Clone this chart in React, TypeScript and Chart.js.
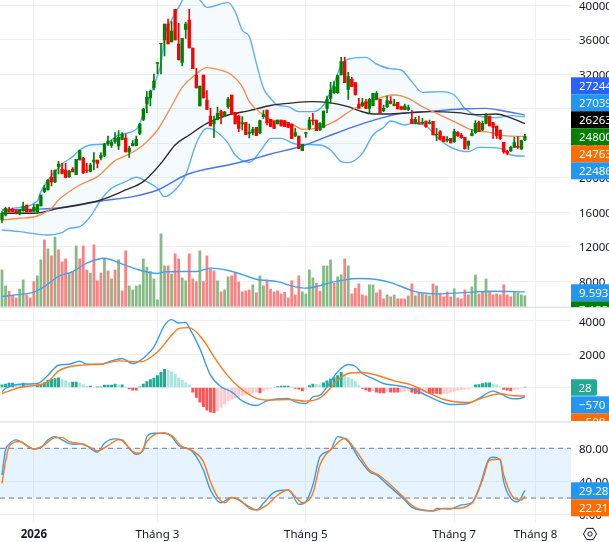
import React, { useEffect, useRef } from "react";
import { Chart, registerables } from "chart.js";

Chart.register(...registerables);

const FONT = "'Noto Sans', sans-serif";

const openPrice = [15084,15664,16320,16320,16166,15780,16166,16823,16282,16089,16011,16707,18368,18561,20029,19488,21265,20956,20879,20106,20995,20338,22038,22269,20879,20724,21806,22038,22269,22578,23892,23737,24201,23660,24433,24587,22965,23699,23737,25128,26750,28527,29223,30420,33240,35519,35944,37799,35713,39498,35481,33356,37181,38262,35017,31888,28296,31888,28991,27137,26210,26750,27678,27214,28218,29570,27562,27137,26210,26364,25128,25205,25823,25205,27059,27832,26749,26556,26208,26672,26600,26363,26208,24818,24818,23118,25127,25706,26672,26672,25513,25822,28024,29183,29839,29839,31887,33432,30226,31423,31000,28526,28294,28796,28024,28333,29067,29067,27753,28217,28874,28333,28719,28217,27908,27908,26749,26285,26363,26285,26556,26285,26517,24972,25320,24740,24277,24547,24161,25242,24934,24663,23736,24856,25204,26401,25513,26285,27135,26363,25976,25513,24084,23040,23118,23504,23620,23311,24354];
const highPrice = [16050,16552,16552,16475,16243,16320,17170,16823,16320,16938,16938,17981,19102,19797,20879,20879,21883,21651,21651,20879,21149,22115,23196,22347,21651,21651,22887,22038,22887,23969,24819,24355,25205,25437,25205,25051,23660,24278,24819,26287,28025,29957,30150,32004,33318,35558,37799,38378,38069,39498,37876,36138,38030,39498,35017,32661,30613,31888,30073,28025,27137,28141,27832,27678,29300,29570,27562,27253,27059,26364,26210,25823,25823,26673,27755,27832,26749,26556,26672,26672,26600,26363,26208,25706,24818,23852,25204,26981,27444,26672,26363,27715,29453,31037,31114,31887,33934,33934,32196,31616,31000,29183,29183,29067,29183,29762,29955,29067,28410,29453,29376,29067,28719,28217,28526,28410,27830,26981,27135,26865,26556,26672,26517,25706,25436,24740,24740,24547,25629,25320,25127,24663,24238,25590,26594,26556,26556,27444,27135,26363,25976,25513,24084,23195,23658,24663,24740,24354,25010];
const lowPrice = [14775,15548,16011,16011,15780,15664,16089,16011,16011,16050,15973,16707,18252,18561,19024,19411,20415,20415,19952,20029,20647,20338,22038,20492,20570,20647,20879,21110,22038,22424,23737,23506,23969,23274,24355,22965,22347,23660,23660,24973,26596,27523,28296,30150,32004,32004,34090,35481,35713,35944,33627,32931,36138,35017,32622,30382,28296,29223,27909,25978,24664,26673,26210,27059,28025,27446,26210,25321,25514,24973,24587,24935,24858,25051,26866,26094,25899,25706,26208,25976,25900,25822,24508,24740,23349,23118,24663,25513,26092,25436,25436,25822,27522,28603,29762,29762,31887,31000,29067,30535,29569,28024,28217,28024,27444,28333,28990,27444,27637,28140,28526,28294,27947,27908,27830,27753,26285,26208,26208,26208,25822,26208,24934,24277,24354,24161,24122,24006,24084,24740,24547,23311,23272,24818,25127,25320,25436,26208,25976,24547,24547,24431,22809,22616,23002,23504,23388,23272,24277];
const closePrice = [15857,16436,16050,16089,15857,16243,16707,16011,16050,16552,16861,17981,18793,19720,19488,20879,21574,20492,20029,20724,20647,22115,23119,20531,20801,21458,22038,21651,22578,23892,24240,24046,24587,24664,25012,22965,23428,23969,24433,26210,27909,29300,29995,31193,33318,35558,37799,35481,36987,35944,33627,36138,37799,35017,32622,30382,30613,29223,27909,25978,26596,27446,27137,27600,29107,27446,26210,25707,26364,24973,25283,25592,24858,26596,27291,26364,25899,25706,26672,25976,25900,25822,24508,25204,23349,23852,25204,26672,26556,25436,26285,27715,29067,30148,30535,31810,33432,31000,31694,30535,29569,28024,28681,28024,29067,29762,29762,27522,28024,28912,28603,28526,27947,27908,28294,28101,26285,26749,26208,26401,25899,26401,24934,25049,24431,24161,24431,24006,25320,24856,24624,23311,24238,25127,26285,25358,26285,27212,25976,25822,24856,24508,22963,22809,23504,24045,23504,24277,24800];

const volumes = [23.3,13.3,10,7.7,5.8,11.3,17.1,7.7,5.8,16,19.6,29.6,42.1,36.5,32.1,43.8,35.8,28.3,30.2,21.3,22.3,38.3,30.2,38.3,23.3,21.3,39,16.5,21.3,30.6,22.7,17.7,23.3,29.6,10.2,35.2,13.3,10.8,13.3,14,30.2,25,22.3,17.7,4.6,45.8,25.8,25.8,20.8,33.3,30.2,18.3,16.5,33.3,17.7,16,35.2,16,32.1,23.8,22.7,16.5,9.6,10.8,19,19.6,21.7,15.8,9.6,10.2,10.8,14,9,19.6,13.3,17.1,11.3,9.6,10.2,8.3,9.4,5.8,16.5,7.7,19.6,9.6,8.3,23.3,18.3,15,10,25.8,25.8,29.6,15,19,20.2,30.2,25.8,8.3,11.9,14.6,7.7,7.1,14,14,9,10.8,5.2,7.7,6.5,7.7,5.2,5.2,5.2,7.1,14.6,7.1,8.8,8.3,7.7,7.1,14.6,13.3,8.8,6.5,9.6,6.5,11.5,5.8,5.2,10.8,7.7,12.7,20.2,8.3,9.6,17.7,9.6,7.7,8.3,7.7,14,7.7,6.5,9.6,9,7.7,7.133];
const volumeSides = "GGRRRGGRRRGGRGRGRRRGRGRRRGRRRGRGRGRRGGGGGGGGGGGRGRRGGRRRGRRRRGRGGRRRRRRGRGGRRRRRRRRRRGGGGRRGGGRGGRGRRRRRGGRRRGRGRRRGRGRGRGRGRRRRGRRRRGGRRGRRRRRRRGGGG".split("");

const macdHist = [160,200,260,260,180,160,260,200,180,140,160,160,300,440,500,540,580,480,400,300,320,320,280,160,80,80,40,40,40,140,140,140,200,160,160,20,-80,-160,-160,40,200,360,480,560,720,920,1100,1040,960,800,560,440,280,160,-280,-600,-880,-1160,-1360,-1480,-1520,-1400,-1200,-1000,-800,-700,-600,-560,-500,-440,-400,-360,-280,-320,-200,-120,-60,-20,60,80,80,80,20,-60,-100,-200,-120,120,200,190,180,280,400,500,600,720,920,800,600,500,360,120,-60,-160,-240,-200,-280,-320,-320,-240,-280,-280,-280,-260,-240,-200,-280,-360,-380,-320,-300,-340,-360,-360,-380,-360,-340,-300,-240,-160,-140,-120,-80,-40,160,180,240,280,280,200,160,60,-120,-160,-200,-120,-100,-40,28];

const volumeMa = [[0,6.7],[4,7.7],[9,9.4],[12,12.9],[16,19.2],[20,22.3],[24,27.5],[29,30.6],[33,27.9],[38,23.8],[44,21.1],[46,22.1],[51,22.3],[55,22.3],[59,24.4],[64,22.9],[68,20.4],[72,17.5],[78,16],[82,13.3],[86,11.9],[89,12.9],[93,15.4],[97,17.1],[101,17.9],[106,17.3],[110,15.4],[115,11.2],[118,9.2],[123,8.3],[128,8.8],[133,9.4],[139,10],[148,9.593]];

const bollingerUpper = [[0,16166],[3,16436],[10,17286],[11,18367],[13,19720],[15,20685],[17,21574],[20,22424],[22,23196],[25,23776],[29,23892],[33,24935],[38,25591],[39,26287],[41,28605],[43,30729],[45,33240],[46,36331],[48,38262],[51,40503],[52,41546],[56,40580],[58,39730],[64,40271],[66,39228],[68,37103],[70,36331],[72,33240],[74,30343],[76,29184],[78,28410],[81,28217],[84,27637],[88,27637],[91,28410],[94,30921],[96,33046],[99,33818],[103,33934],[106,33162],[110,32621],[113,32466],[116,31114],[119,29878],[124,29955],[128,29569],[131,28024],[134,27251],[140,26942],[144,27174],[148,27039]];
const bollingerLower = [[0,13925],[5,13732],[13,13346],[17,13617],[19,14118],[22,14312],[25,15470],[28,17402],[31,18754],[35,19526],[38,20029],[41,19526],[44,18754],[46,17788],[49,18561],[52,20299],[55,23969],[58,25708],[60,25514],[64,23969],[66,22617],[70,21767],[73,23003],[75,24162],[76,24547],[79,24547],[83,23890],[90,23775],[93,23195],[96,21843],[98,21727],[102,22809],[105,24933],[108,25822],[110,26556],[114,26092],[116,26285],[120,25976],[123,24740],[127,23504],[132,23002],[135,23504],[141,23388],[144,22616],[148,22486]];
const maOrange = [[0,15084],[5,15277],[10,15547],[14,16436],[16,17402],[22,19140],[27,20106],[32,21960],[34,22347],[38,23196],[41,24162],[44,25514],[48,28295],[51,30459],[55,32004],[58,32738],[61,32545],[65,31888],[68,30536],[70,28798],[74,27253],[76,26672],[79,26556],[83,25977],[85,25590],[90,25822],[94,26479],[99,27831],[104,28796],[111,29569],[115,29183],[119,28217],[122,27637],[128,26479],[133,25513],[138,25242],[142,24856],[148,24763]];
const maBlack = [[0,15857],[9,15857],[16,16436],[28,17402],[35,18561],[40,19526],[45,21651],[49,23776],[53,24935],[58,26287],[64,27253],[70,27755],[76,28350],[81,28603],[88,28796],[92,28719],[98,28217],[101,27753],[105,27367],[109,27367],[116,27522],[121,27637],[129,27522],[134,27290],[140,27367],[143,27058],[148,26263]];
const maBlue = [[0,16243],[9,16320],[18,16552],[28,17286],[37,17788],[44,18561],[52,20299],[56,20801],[64,21458],[70,22037],[76,22733],[85,23658],[92,24740],[99,25822],[107,26865],[113,27444],[121,27676],[130,27947],[137,28024],[142,27715],[148,27244]];

const macdLine = [[0,-260],[1,-60],[5,200],[10,240],[13,740],[16,1340],[19,1400],[22,1580],[24,1400],[28,1400],[31,1600],[34,1740],[37,1440],[39,1600],[43,2440],[46,3740],[48,4080],[50,3880],[52,3920],[53,3600],[56,2340],[59,740],[62,40],[65,-260],[68,-800],[72,-1080],[75,-800],[81,-660],[83,-860],[86,-960],[88,-560],[90,-460],[92,40],[95,940],[98,1380],[100,1280],[102,840],[105,540],[108,240],[111,140],[115,-20],[119,-360],[123,-760],[127,-1020],[132,-960],[135,-660],[139,-220],[141,-360],[144,-660],[146,-680],[148,-570]];
const macdSignal = [[0,-360],[5,0],[10,140],[13,340],[16,1000],[22,1340],[28,1400],[33,1600],[39,1540],[44,2140],[48,3140],[50,3540],[53,3600],[57,2840],[60,1840],[63,940],[67,40],[72,-660],[75,-760],[81,-720],[86,-820],[90,-620],[92,-260],[95,440],[98,840],[102,900],[106,740],[111,400],[116,140],[120,-260],[125,-720],[132,-900],[136,-620],[141,-380],[145,-500],[148,-508]];

const stochK = [[0,47.8],[1,78],[2,84.9],[4,90.1],[6,86.1],[9,79.2],[11,80.8],[13,90.1],[15,94.1],[17,90.1],[20,84.9],[23,85.3],[25,80],[27,75.2],[29,86.1],[32,91.3],[34,90.1],[36,80],[38,72.8],[40,78],[41,94.1],[43,98.1],[46,98.1],[48,94.1],[50,83.2],[53,79.2],[55,70],[57,53.8],[59,29.7],[62,14.4],[65,20.8],[67,17.6],[70,9.5],[72,5.5],[74,13.6],[77,26.9],[81,29.7],[82,25.7],[84,12.4],[86,15.6],[88,35.7],[90,70],[93,78],[95,94.1],[96,93.3],[98,88.1],[101,67.9],[104,51.8],[106,47.8],[109,36.5],[114,17.6],[116,8.7],[122,4.3],[123,7.5],[127,6.7],[130,11.6],[133,14.4],[135,31.7],[138,67.9],[139,69.1],[141,65.9],[142,39.7],[144,19.6],[146,15.6],[148,29.28]];
const stochD = [[0,37.7],[1,63.9],[2,82],[5,88.1],[7,83.2],[9,79.2],[12,84.1],[15,92.9],[17,92.9],[19,88.1],[22,85.7],[25,81.2],[27,76.8],[30,83.2],[33,90.5],[34,89.3],[37,76],[39,74],[41,88.1],[43,96.1],[46,98.6],[48,95.3],[51,82],[54,76.8],[57,63.9],[59,39.7],[61,21.6],[63,14.4],[65,20.4],[67,18.8],[70,7.5],[72,5.5],[75,11.6],[78,23.6],[81,29.7],[83,21.6],[85,14.4],[88,25.7],[90,59.9],[94,82],[97,92.1],[99,84.1],[102,65.9],[104,53.8],[107,46.6],[110,35.7],[113,23.6],[117,8.3],[122,4.7],[125,7.5],[128,7.5],[133,13.6],[136,41.8],[138,65.9],[141,66.7],[142,47.8],[145,19.6],[147,17.6],[148,22.21]];

const priceTicks = [40000,36000,32000,28000,24000,20000,16000,12000,8000];
const macdTicks = [4000,2000,0];
const stochTicks = [80,40,0];
const stochBandLevels = [80,20];
const timeTicks = [9,44,86,128,151];
const timeLabels = ["2026","Tháng 3","Tháng 5","Tháng 7","Tháng 8"];

const priceBadges = [
  ["27244","#2962ff"],["27039","#2196f3"],["26263","#000000"],
  ["24800","#008000"],["24763","#ff6d00"],["22486","#2196f3"],
];
const volumeBadges = [["9.593","#2196f3"],["7.133","#008000"]];
const macdBadges = [["28","#22ab94"],["−570","#2196f3"],["−508","#ff6d00"]];
const stochBadges = [["29.28","#2196f3"],["22.21","#ff6d00"]];

const UP = "#008000";
const DOWN = "#ff0000";
const GRID = "#eff1f5";
const X_MIN = -0.566;
const X_MAX = 161.05;
const AXIS_WIDTH = 38;
const BADGE_H = 17;
const LABEL_FONT = `11.5px ${FONT}`;

const toPoints = (pairs: number[][]) => pairs.map(([x, y]) => ({ x, y }));
const isUp = (i: number) => closePrice[i] >= openPrice[i];
const candleColors = openPrice.map((_, i) => (isUp(i) ? UP : DOWN));

const histColors = macdHist.map((v, i) => {
  const prev = i > 0 ? macdHist[i - 1] : v;
  if (v >= 0) return v >= prev ? "#22ab94" : "#ace5dc";
  return v <= prev ? "#ff5252" : "#fccbcd";
});

const line = (label: string, data: number[][], color: string, yAxisID: string, width = 1.4, extra: any = {}) => ({
  type: "line" as const,
  label,
  data: toPoints(data),
  borderColor: color,
  borderWidth: width,
  pointRadius: 0,
  cubicInterpolationMode: "monotone" as const,
  yAxisID,
  xAxisID: "x",
  fill: false,
  ...extra,
});

const paneOverlay = {
  id: "paneOverlay",
  afterDraw(chart: any) {
    const { ctx, scales, chartArea } = chart;
    const right = chartArea.right;
    const width = chart.width - right;
    ctx.save();
    ctx.strokeStyle = "#e0e3eb";
    ctx.lineWidth = 1.5;
    [scales.yPrice.bottom, scales.yMacd.bottom].forEach((y: number) => {
      ctx.beginPath();
      ctx.moveTo(0, y);
      ctx.lineTo(right, y);
      ctx.stroke();
    });

    // value axis labels, taken from each pane's own scale
    ctx.fillStyle = "#131722";
    ctx.font = LABEL_FONT;
    ctx.textAlign = "left";
    ctx.textBaseline = "middle";
    const axisLabels = (scale: any, values: number[], format: (v: number) => string) => {
      values.forEach((v) => {
        ctx.fillText(format(v), right + 8, scale.getPixelForValue(v) + 1.5);
      });
    };
    axisLabels(scales.yPrice, priceTicks, (v) => String(v));
    axisLabels(scales.yMacd, macdTicks, (v) => String(v));
    axisLabels(scales.yStoch, stochTicks, (v) => v.toFixed(2));

    const stackBadges = (list: string[][], top: number, clipBottom: number, rounded = false) => {
      ctx.save();
      ctx.beginPath();
      ctx.rect(right, 0, width, clipBottom);
      ctx.clip();
      list.forEach(([text, color], n) => {
        const y = top + n * BADGE_H;
        ctx.fillStyle = color;
        if (rounded && n === 0) {
          ctx.beginPath();
          ctx.roundRect(right, y, 26, BADGE_H - 0.5, [0, 2, 2, 0]);
          ctx.fill();
        } else {
          ctx.fillRect(right, y, width, BADGE_H);
        }
        ctx.fillStyle = "#ffffff";
        ctx.font = LABEL_FONT;
        ctx.textAlign = "left";
        ctx.textBaseline = "middle";
        ctx.fillText(text, rounded && n === 0 ? right + 7.5 : right + 8, y + BADGE_H / 2 + 0.5);
      });
      ctx.restore();
    };
    stackBadges(priceBadges, 77.3, chart.height);
    stackBadges(volumeBadges, 284.3, scales.yPrice.bottom);
    stackBadges(macdBadges, 379.3, scales.yMacd.bottom - 1, true);
    stackBadges(stochBadges, 482.3, chart.height);

    // settings icon of the time axis
    const cx = 590;
    const cy = 534;
    ctx.strokeStyle = "#131722";
    ctx.lineWidth = 1;
    ctx.beginPath();
    for (let k = 0; k < 6; k++) {
      const a = (Math.PI / 3) * k;
      const px = cx + 6.5 * Math.cos(a);
      const py = cy + 6.5 * Math.sin(a);
      if (k === 0) ctx.moveTo(px, py);
      else ctx.lineTo(px, py);
    }
    ctx.closePath();
    ctx.stroke();
    ctx.beginPath();
    ctx.arc(cx, cy, 2.2, 0, Math.PI * 2);
    ctx.stroke();
    ctx.restore();
  },
};

const noPadding = (scale: any) => {
  scale.paddingTop = 0;
  scale.paddingBottom = 0;
  scale.paddingLeft = 0;
  scale.paddingRight = 0;
};

const valueAxis = (min: number, max: number, weight: number, values: number[]) => ({
  type: "linear" as const,
  position: "right" as const,
  stack: "panes",
  stackWeight: weight,
  min,
  max,
  afterBuildTicks(scale: any) {
    scale.ticks = values.map((value) => ({ value }));
  },
  afterFit(scale: any) {
    scale.width = AXIS_WIDTH;
    noPadding(scale);
  },
  border: { display: false },
  grid: { color: GRID, drawTicks: false, lineWidth: 1 },
  ticks: { display: false },
});

export default function App() {
  const ref = useRef<HTMLCanvasElement>(null);
  useEffect(() => {
    if (!ref.current) return;
    const bandFrom = stochBandLevels[0];
    const bandTo = stochBandLevels[1];
    const chart = new Chart(ref.current, {
      data: {
        datasets: [
          // Bollinger band fill
          line("BB upper", bollingerUpper, "#5eb0f5", "yPrice", 1.4, {
            order: 9,
            fill: { target: 1, above: "rgba(33,150,243,0.05)", below: "rgba(33,150,243,0.05)" },
          }),
          line("BB lower", bollingerLower, "#5eb0f5", "yPrice", 1.4, { order: 9 }),
          line("MA orange", maOrange, "#f98f4a", "yPrice", 1.4, { order: 8 }),
          line("MA black", maBlack, "#2b2b2b", "yPrice", 1.4, { order: 8 }),
          line("MA blue", maBlue, "#4a72f5", "yPrice", 1.4, { order: 8 }),
          {
            type: "bar" as const,
            label: "wick",
            data: highPrice.map((h, i) => ({ x: i, y: [lowPrice[i], h] })),
            backgroundColor: candleColors,
            barThickness: 1,
            grouped: false,
            yAxisID: "yPrice",
            xAxisID: "x",
            order: 3,
          } as any,
          {
            type: "bar" as const,
            label: "body",
            data: openPrice.map((o, i) => ({ x: i, y: [o, closePrice[i]] })),
            backgroundColor: candleColors,
            barThickness: 2.7,
            grouped: false,
            yAxisID: "yPrice",
            xAxisID: "x",
            order: 2,
          } as any,
          {
            type: "bar" as const,
            label: "volume",
            data: volumes.map((v, i) => ({ x: i, y: v })),
            backgroundColor: volumeSides.map((s) => (s === "G" ? "#84bb84" : "#ff8080")),
            barThickness: 2.1,
            grouped: false,
            yAxisID: "yVolume",
            xAxisID: "x",
            order: 7,
          } as any,
          line("Volume MA", volumeMa, "#42a0f0", "yVolume", 1.4, { order: 6 }),
          {
            type: "bar" as const,
            label: "MACD hist",
            data: macdHist.map((v, i) => ({ x: i, y: v })),
            backgroundColor: histColors,
            barThickness: 2.3,
            grouped: false,
            yAxisID: "yMacd",
            xAxisID: "x",
            order: 7,
          } as any,
          line("MACD", macdLine, "#3a9cf0", "yMacd", 1.4, { order: 5 }),
          line("Signal", macdSignal, "#ff7a1a", "yMacd", 1.4, { order: 4 }),
          line("band high", [[X_MIN, bandFrom], [X_MAX, bandFrom]], "#787b86", "yStoch", 1, {
            borderDash: [5, 4],
            order: 6,
            fill: { target: "+1", above: "rgba(33,150,243,0.11)", below: "rgba(33,150,243,0.11)" },
          }),
          line("band low", [[X_MIN, bandTo], [X_MAX, bandTo]], "#787b86", "yStoch", 1, {
            borderDash: [5, 4],
            order: 6,
          }),
          line("%K", stochK, "#3a9cf0", "yStoch", 1.4, { order: 5 }),
          line("%D", stochD, "#ff7a1a", "yStoch", 1.4, { order: 4 }),
        ],
      },
      options: {
        responsive: false,
        animation: false,
        devicePixelRatio: 1,
        layout: { padding: 0, autoPadding: false },
        plugins: { legend: { display: false }, tooltip: { enabled: false } },
        scales: {
          x: {
            type: "linear",
            position: "bottom",
            offset: false,
            min: X_MIN,
            max: X_MAX,
            afterBuildTicks(scale: any) {
              scale.ticks = timeTicks.map((value) => ({ value }));
            },
            afterFit(scale: any) {
              scale.height = 20;
              noPadding(scale);
            },
            border: { display: false },
            grid: { color: GRID, drawTicks: false, offset: false },
            ticks: {
              autoSkip: false,
              maxRotation: 0,
              padding: 6,
              color: "#131722",
              font: (ctx: any) => ({
                family: FONT,
                size: 11.5,
                weight: ctx.index === 0 ? "bold" : "normal",
              }),
              callback: (v: any) => timeLabels[timeTicks.indexOf(Number(v))],
            },
          },
          yPrice: valueAxis(4964, 40580, 307.3, priceTicks),
          yMacd: valueAxis(-2075, 4824, 114.7, macdTicks),
          yStoch: valueAxis(-8.9, 111.7, 100, stochTicks),
          yVolume: { type: "linear", position: "right", display: false, min: -134.25, max: 192 },
        },
      } as any,
      plugins: [paneOverlay],
    } as any);
    return () => chart.destroy();
  }, []);
  return (
    <div style={{ position: "fixed", left: 0, top: 0, width: 609, height: 542, background: "#ffffff" }}>
      <canvas ref={ref} width={609} height={542} style={{ display: "block" }} />
    </div>
  );
}
